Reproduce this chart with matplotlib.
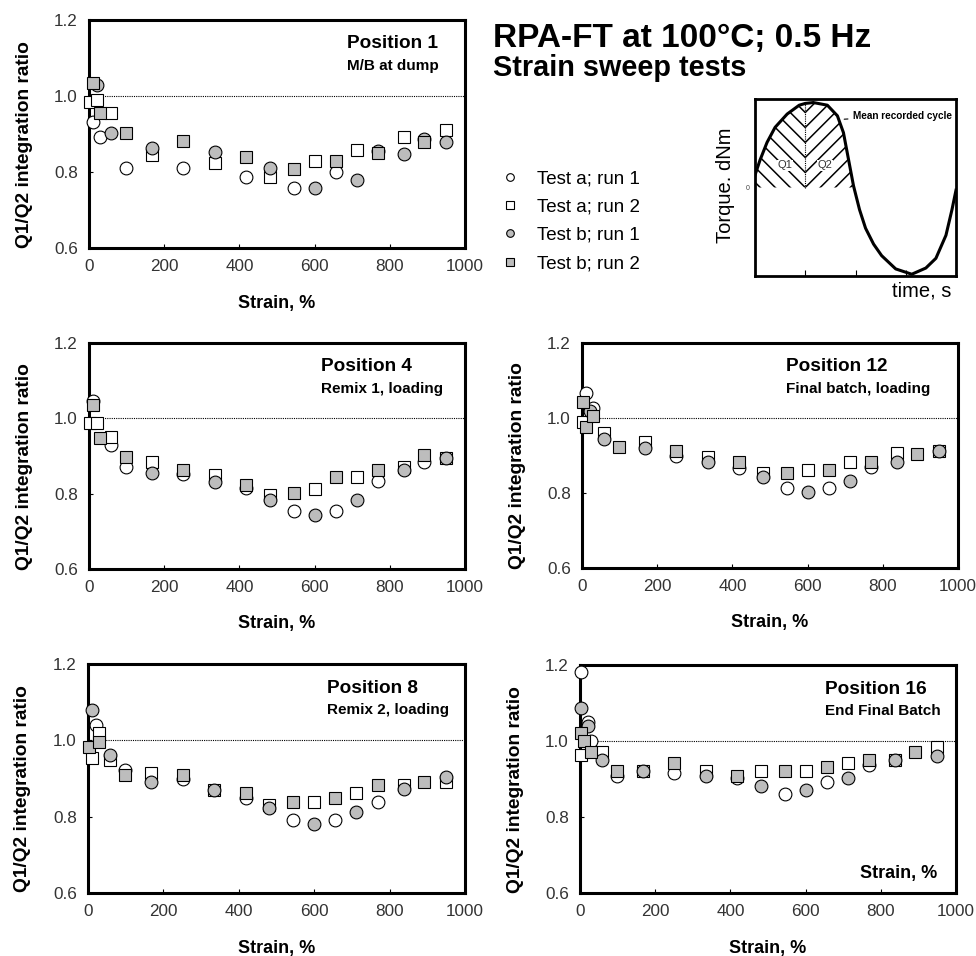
import numpy as np
import matplotlib.pyplot as plt
from matplotlib.lines import Line2D

plt.rcParams['font.family'] = ['Liberation Sans', 'DejaVu Sans']

n = np.nan
# strain amplitudes (%) of the sweep
strain = [3, 10, 20, 30, 59, 98, 167, 251, 335, 418, 481, 544, 600, 656, 712, 768, 837, 890, 949]

# Position 1 - M/B at dump
p1_a1 = [n, .932, n, .891, n, .810, n, .811, n, .788, n, .758, n, .799, n, n, n, n, n]
p1_a2 = [.985, n, .990, n, .955, n, .845, n, .823, n, .788, n, .830, n, .858, n, .892, n, .911]
p1_b1 = [n, n, 1.030, n, .903, n, .862, n, .853, n, .810, n, .758, n, .780, .855, .848, .888, .880]
p1_b2 = [n, 1.033, n, .955, n, .902, n, .882, n, .839, n, .808, n, .828, n, .850, n, .880, n]

# Position 4 - Remix 1, loading
p4_a1 = [n, 1.045, n, n, .930, .872, n, .852, n, .814, n, .754, n, .754, n, .834, n, .885, n]
p4_a2 = [.987, n, .987, n, .951, n, .885, n, .850, n, .797, n, .812, n, .843, n, .872, n, .896]
p4_b1 = [n, n, n, n, n, n, .854, n, .832, n, .784, n, .744, n, .782, n, .863, n, .896]
p4_b2 = [n, 1.035, n, .947, n, .898, n, .863, n, .823, n, .803, n, .843, n, .863, n, .903, n]

# Position 12 - Final batch, loading
p12_a1 = [n, 1.066, n, 1.026, n, n, n, .900, n, .866, n, .813, n, .813, n, .870, n, n, n]
p12_a2 = [.990, n, n, n, .960, n, .937, n, .897, n, .854, n, .861, n, .884, n, .908, n, .912]
p12_b1 = [n, n, 1.020, n, .943, n, .921, n, .884, n, .844, n, .804, n, .832, n, .884, n, .912]
p12_b2 = [1.043, .977, n, 1.005, n, .923, n, .912, n, .884, n, .853, n, .861, n, .884, n, .904, n]

# Position 8 - Remix 2, loading
p8_a1 = [n, n, 1.040, n, n, .922, n, .900, n, .848, n, .791, n, .791, n, .839, n, n, n]
p8_a2 = [n, .953, n, 1.020, .948, n, .914, n, .870, n, .830, n, .839, n, .861, n, .883, n, .892]
p8_b1 = [n, 1.079, n, n, .962, n, .892, n, .871, n, .822, n, .782, n, .813, n, .872, n, .905]
p8_b2 = [.983, n, n, .996, n, .909, n, .909, n, .861, n, .839, n, .850, n, .883, n, .892, n]

# Position 16 - End Final Batch
p16_a1 = [1.182, n, 1.051, 1.000, n, .907, n, .917, n, .902, n, .860, n, .891, n, .937, n, n, n]
p16_a2 = [.963, n, n, n, .972, n, .920, n, .922, n, .920, n, .920, n, .942, n, .950, n, .983]
p16_b1 = [1.088, n, 1.040, n, .950, n, .920, n, .908, n, .882, n, .870, n, .902, n, .950, n, .961]
p16_b2 = [1.020, 1.000, n, .970, n, .920, n, .942, n, .909, n, .920, n, .931, n, .950, n, .970, n]

labels = ['Test a; run 1', 'Test a; run 2', 'Test b; run 1', 'Test b; run 2']
markers = ['o', 's', 'o', 's']
faces = ['white', 'white', '#bdbdbd', '#bdbdbd']

# schematic torque cycle for the inset
cyc_t = [0.00, 0.025, 0.06, 0.10, 0.16, 0.22, 0.25, 0.29, 0.36, 0.41, 0.44, 0.46, 0.48, 0.49,
         0.52, 0.55, 0.59, 0.63, 0.70, 0.78, 0.85, 0.90, 0.95, 0.98, 1.00]
cyc_q = [0.14, 0.31, 0.51, 0.68, 0.83, 0.93, 0.95, 0.96, 0.93, 0.81, 0.62, 0.38, 0.14, 0.02,
         -0.25, -0.46, -0.64, -0.77, -0.92, -0.98, -0.91, -0.80, -0.54, -0.25, -0.03]
t_split = 0.25

W, H = 976, 956
fig = plt.figure(figsize=(W / 100, H / 100), dpi=100)


def px_axes(l, t, r, b):
    return fig.add_axes([l / W, 1 - b / H, (r - l) / W, (b - t) / H])


def panel(box, data, title, sub, tx):
    ax = px_axes(*box)
    for vals, m, fc, lab in zip(data, markers, faces, labels):
        ax.plot(strain, vals, linestyle='none', marker=m, markersize=9.2,
                markerfacecolor=fc, markeredgecolor='black', markeredgewidth=0.8,
                clip_on=False, zorder=4, label=lab)
    ax.axhline(1.0, color='black', lw=0.8, ls=(0, (1, 1)), zorder=1)
    ax.set_xlim(0, 1000)
    ax.set_ylim(0.6, 1.2)
    ax.set_xticks([0, 200, 400, 600, 800, 1000])
    ax.set_yticks([0.6, 0.8, 1.0, 1.2])
    ax.set_yticklabels(['0.6', '0.8', '1.0', '1.2'])
    ax.tick_params(direction='in', length=3, width=0.8, labelsize=12.3,
                   labelcolor='#333333', pad=8)
    for s in ax.spines.values():
        s.set_linewidth(2.2)
    ax.set_xlabel('Strain, %', fontsize=13, fontweight='bold')
    ax.set_ylabel('Q1/Q2 integration ratio', fontsize=13.8, fontweight='bold')
    ax.xaxis.set_label_coords(0.5, -0.205)
    ax.yaxis.set_label_coords(-0.15, 0.455)
    ax.text(tx, 0.875, title, transform=ax.transAxes, fontsize=13.7, fontweight='bold')
    ax.text(tx, 0.78, sub, transform=ax.transAxes, fontsize=11, fontweight='bold')
    return ax


panel((89, 20, 465, 248), [p1_a1, p1_a2, p1_b1, p1_b2], 'Position 1', 'M/B at dump', 0.686)
panel((89, 343, 465, 569), [p4_a1, p4_a2, p4_b1, p4_b2], 'Position 4', 'Remix 1, loading', 0.617)
panel((582, 343, 958, 568), [p12_a1, p12_a2, p12_b1, p12_b2], 'Position 12', 'Final batch, loading', 0.543)
panel((88, 664, 465, 893), [p8_a1, p8_a2, p8_b1, p8_b2], 'Position 8', 'Remix 2, loading', 0.634)
ax16 = panel((580, 665, 956, 893), [p16_a1, p16_a2, p16_b1, p16_b2], 'Position 16', 'End Final Batch', 0.652)
ax16.text(0.95, 0.066, 'Strain, %', transform=ax16.transAxes, ha='right',
          fontsize=13, fontweight='bold')

# titles
fig.text(493 / W, 1 - 47 / H, 'RPA-FT at 100°C; 0.5 Hz', fontsize=24, fontweight='bold')
fig.text(493 / W, 1 - 76 / H, 'Strain sweep tests', fontsize=20.8, fontweight='bold')

# legend
handles = [Line2D([], [], linestyle='none', marker=m, markersize=5.5, markerfacecolor=fc,
                  markeredgecolor='black', markeredgewidth=0.8) for m, fc in zip(markers, faces)]
fig.legend(handles, labels, loc='upper left', bbox_to_anchor=(502 / W, 1 - 170 / H),
           frameon=False, fontsize=13.5, handlelength=0.85, handletextpad=1.0,
           labelspacing=0.6, borderpad=0, borderaxespad=0)

# inset: torque cycle with Q1 / Q2 areas
axi = px_axes(755, 99, 956, 276)
axi.set_xlim(0, 1)
axi.set_ylim(-1, 1)
axi.plot(cyc_t, cyc_q, color='black', lw=2.2, zorder=3)
t = np.array(cyc_t)
q = np.array(cyc_q)
q1 = axi.fill_between(t, 0, q, where=(t <= t_split), facecolor='none', lw=0)
q2 = axi.fill_between(t, 0, q, where=(t >= t_split) & (q >= 0), facecolor='none', lw=0)

# chevron hatching: '\' lines in Q1 and '/' lines in Q2, meeting on the split line
k = (2 / 177) / (1 / 201)  # slope of a 45 degree line in data units
step = 15 * 2 / 177
for y0 in np.arange(-4, 12) * step:
    l1, = axi.plot([0, t_split], [y0 + k * t_split, y0], color='black', lw=1.1, zorder=2)
    l1.set_clip_path(q1.get_paths()[0], axi.transData)
    l2, = axi.plot([t_split, 0.6], [y0, y0 + k * (0.6 - t_split)], color='black', lw=1.1, zorder=2)
    l2.set_clip_path(q2.get_paths()[0], axi.transData)

axi.plot([t_split, t_split], [0, 0.95], color='black', lw=0.8, ls=(0, (1, 1)), zorder=2)
axi.set_xticks([0.25, 0.5, 0.75])
axi.set_xticklabels([])
axi.set_yticks([0])
axi.set_yticklabels(['0'])
axi.tick_params(axis='x', direction='in', length=4, width=0.8)
axi.tick_params(axis='y', length=0, labelsize=5, pad=4, labelcolor='#444444')
for s in axi.spines.values():
    s.set_linewidth(2.0)
axi.text(0.15, 0.25, 'Q1', fontsize=8, ha='center', va='center', color='#333333', zorder=4,
         bbox=dict(facecolor='white', edgecolor='none', pad=0.5))
axi.text(0.35, 0.25, 'Q2', fontsize=8, ha='center', va='center', color='#333333', zorder=4,
         bbox=dict(facecolor='white', edgecolor='none', pad=0.5))
axi.annotate('Mean recorded cycle', xy=(0.43, 0.77), xytext=(0.49, 0.81),
             fontsize=7.2, fontweight='bold', va='center',
             arrowprops=dict(arrowstyle='-', lw=0.8, color='black'))
axi.set_ylabel('Torque. dNm', fontsize=14.5)
axi.yaxis.set_label_coords(-0.1, 0.51)
axi.set_xlabel('time, s', fontsize=14.5)
axi.xaxis.set_label_coords(0.83, -0.03)

fig.savefig('out.png', dpi=100)
